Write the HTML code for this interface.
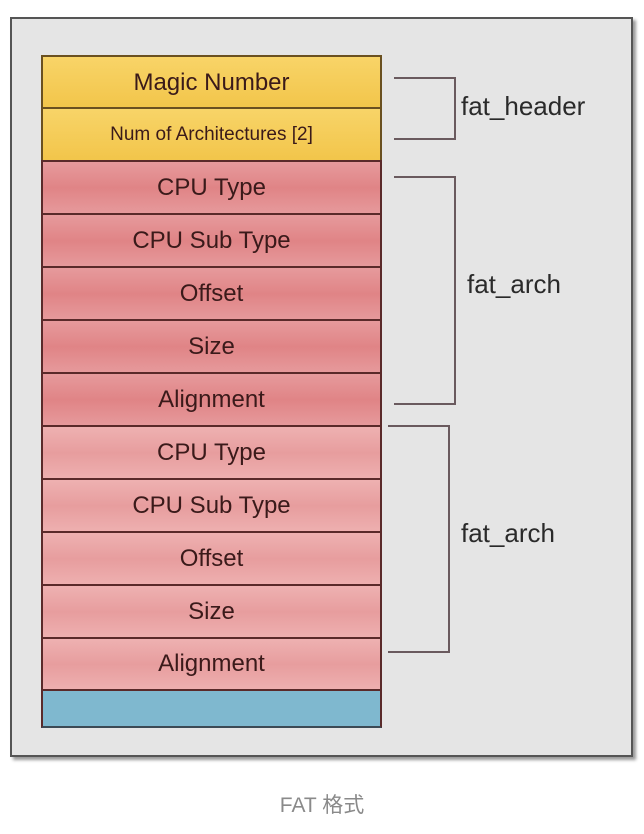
<!DOCTYPE html>
<html><head><meta charset="utf-8"><style>
html,body{margin:0;padding:0;background:#fff;width:644px;height:834px;overflow:hidden}
body{position:relative;font-family:"Liberation Sans","Noto Sans CJK SC",sans-serif}
.frame{position:absolute;left:10px;top:17px;width:619px;height:736px;background:#e5e5e5;border:2px solid #555;box-shadow:3px 3px 3px #999}
.row{position:absolute;left:41px;width:341px;border:2px solid #5a2a2a;border-bottom:none;text-align:center;color:#3a1a1a;font-size:24px;box-sizing:border-box}
.y{background:linear-gradient(#f8d468,#f2c54a);border-color:#6a5020}
.r{background:linear-gradient(#e69a9c,#e08486 50%,#e69a9c)}
.l{background:linear-gradient(#eeb1b1,#e79d9e 50%,#eeb0b0)}
.b{background:#7fb8cf;border-bottom:2px solid #3c4a55}
.br{position:absolute;border:2px solid #6a5a5e;border-left:none}
.lab{position:absolute;font-size:26px;color:#2a2a2a}
</style></head><body>
<div class="frame"></div>
<div class="row y" style="top:55px;height:53px;line-height:52px">Magic Number</div>
<div class="row y" style="top:107px;height:54px;line-height:52px;font-size:19px">Num of Architectures [2]</div>
<div class="row r" style="top:160px;height:54px;line-height:52px">CPU Type</div>
<div class="row r" style="top:213px;height:54px;line-height:52px">CPU Sub Type</div>
<div class="row r" style="top:266px;height:54px;line-height:52px">Offset</div>
<div class="row r" style="top:319px;height:54px;line-height:52px">Size</div>
<div class="row r" style="top:372px;height:54px;line-height:52px">Alignment</div>
<div class="row l" style="top:425px;height:54px;line-height:52px">CPU Type</div>
<div class="row l" style="top:478px;height:54px;line-height:52px">CPU Sub Type</div>
<div class="row l" style="top:531px;height:54px;line-height:52px">Offset</div>
<div class="row l" style="top:584px;height:54px;line-height:52px">Size</div>
<div class="row l" style="top:637px;height:53px;line-height:50px">Alignment</div>
<div class="row b" style="top:689px;height:39px"></div>
<div class="br" style="left:394px;top:77px;width:60px;height:59px"></div>
<div class="br" style="left:394px;top:176px;width:60px;height:225px"></div>
<div class="br" style="left:388px;top:425px;width:60px;height:224px"></div>
<div class="lab" style="left:461px;top:91px">fat_header</div>
<div class="lab" style="left:467px;top:269px">fat_arch</div>
<div class="lab" style="left:461px;top:518px">fat_arch</div>
<div style="position:absolute;left:0;width:644px;top:789px;text-align:center;font-size:21px;color:#8a8a8a">FAT 格式</div>
</body></html>
